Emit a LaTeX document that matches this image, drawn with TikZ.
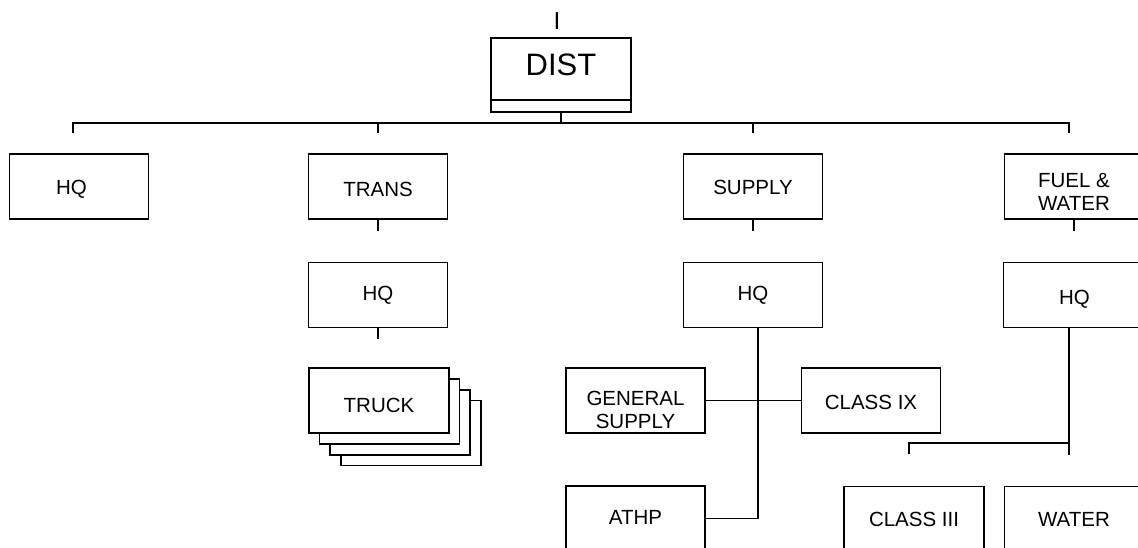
\documentclass[tikz,border=0pt]{standalone}
\usepackage{fontspec}
\setmainfont{Liberation Sans}
\begin{document}
\begin{tikzpicture}[x=1pt,y=-1pt,line width=1.9pt,
  box/.style={draw,fill=white,minimum width=139pt,minimum height=65pt,inner sep=0pt},
  txt/.style={inner sep=0pt,align=center,font=\fontsize{20.5}{23.3}\selectfont},
  captxt/.style={txt,text height=14.7pt,text depth=0pt}]
\clip (0,0) rectangle (1138,548);
% top unit
\node[inner sep=0pt,text height=17.5pt,text depth=0pt,font=\fontsize{24.5}{25}\selectfont] (unit) at (557,20.5) {I};
\node[draw,minimum width=140pt,minimum height=74pt,inner sep=0pt] (dist) at (561,75) {};
\node[inner sep=0pt,text height=22.3pt,text depth=0pt,font=\fontsize{31}{33}\selectfont] (distlabel) at (561,64) {DIST};
\draw ([yshift=13pt]dist.south west) -- ([yshift=13pt]dist.south east);
% first level
\node[box] (hq1) at (79,186.5) {};
\node[captxt] (hq1t) at (71.5,187.5) {HQ};
\node[box] (trans) at (378,186.5) {};
\node[captxt] (transt) at ([yshift=-3pt]trans.center) {TRANS};
\node[box] (supply) at (753,186.5) {};
\node[captxt] (supplyt) at ([yshift=-1pt]supply.center) {SUPPLY};
\node[box] (fuel) at (1074,186.5) {};
\node[txt] (fuelt) at ([yshift=-5.5pt]fuel.center) {FUEL \&\\WATER};
% second level
\node[box] (thq) at (378,295) {};
\node[captxt] (thqt) at ([yshift=2pt]thq.center) {HQ};
\node[box] (shq) at (753,295) {};
\node[captxt] (shqt) at ([yshift=2pt]shq.center) {HQ};
\node[box] (fhq) at (1073,295) {};
\node[captxt] (fhqt) at ([xshift=1.5pt,yshift=-2pt]fhq.center) {HQ};
% truck stack
\node[box,minimum width=140pt] (truck4) at (411,433) {};
\node[box,minimum width=140pt] (truck3) at (400,422.5) {};
\node[box,minimum width=140pt] (truck2) at (389.5,411.5) {};
\node[box,minimum width=140pt] (truck) at (379,400.5) {};
\node[captxt] (truckt) at ([yshift=-5pt]truck.center) {TRUCK};
% supply children
\node[box] (gensup) at (635.5,400.5) {};
\node[txt] (gensupt) at ([yshift=-9.5pt]gensup.center) {GENERAL\\SUPPLY};
\node[box] (class9) at (871,400.5) {};
\node[captxt] (class9t) at ([yshift=-2pt]class9.center) {CLASS IX};
\node[box] (athp) at (635.5,518.5) {};
\node[captxt] (athpt) at ([yshift=1pt]athp.center) {ATHP};
% fuel children
\node[box,minimum width=140pt] (class3) at (914,519) {};
\node[captxt] (class3t) at (class3.center) {CLASS III};
\node[box] (water) at (1074,519) {};
\node[captxt] (watert) at (water.center) {WATER};
% top bus
\coordinate (bus) at (0,123);
\coordinate (busL) at (73,123);
\coordinate (busR) at (1069,123);
\draw (dist.south) -- (dist.south |- bus);
\draw (busL) ++(0,10) -- (busL) -- (busR) -- ++(0,10);
\draw (trans.north |- bus) -- ++(0,10);
\draw (supply.north |- bus) -- ++(0,10);
% transport branch
\draw (trans.south) -- ++(0,11);
\draw (thq.south) -- ++(0,11);
% supply branch
\draw (supply.south) -- ++(0,11);
\coordinate (sv) at ([xshift=5pt]shq.south);
\draw (sv) -- (sv |- athp.east) -- (athp.east);
\draw (gensup.east) -- (class9.west);
% fuel branch
\draw (fuel.south) -- ++(0,11);
\coordinate (fbus) at (0,443);
\coordinate (fv) at ([xshift=-4pt]fhq.south);
\coordinate (c3t) at ([xshift=-5pt]class3.north);
\draw (fv) -- ++(0,127);
\draw (fv |- fbus) -- (c3t |- fbus) -- ++(0,11);
\end{tikzpicture}
\end{document}
